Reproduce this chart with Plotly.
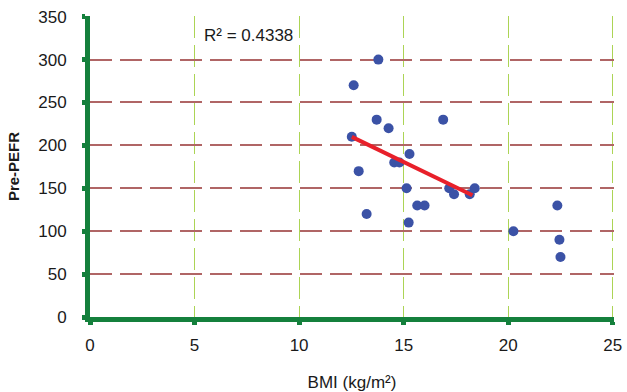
import plotly.graph_objects as go

bmi = [12.61, 13.79, 13.71, 14.28, 16.89, 12.52, 12.85, 15.28, 14.55, 14.8,
       15.14, 17.18, 17.41, 18.16, 18.4, 13.23, 15.24, 15.65, 16.0, 20.25,
       22.35, 22.45, 22.5]
pefr = [270, 300, 230, 220, 230, 210, 170, 190, 180, 180,
        150, 150, 143, 143, 150, 120, 110, 130, 130, 100,
        130, 90, 70]

trend_x_range = [12.52, 18.29]
trend_slope = -11.8
trend_intercept = 357.7
r2_text = "R² = 0.4338"

x_ticks = [0, 5, 10, 15, 20, 25]
y_ticks = [0, 50, 100, 150, 200, 250, 300, 350]

font_family = "Liberation Sans, Arial, sans-serif"
axis_green = "#14803c"

fig = go.Figure()
fig.add_trace(go.Scatter(
    x=bmi, y=pefr, mode="markers",
    marker=dict(color="#3b52a6", size=10, line=dict(width=0)),
    showlegend=False, cliponaxis=False))
fig.add_trace(go.Scatter(
    x=trend_x_range,
    y=[trend_slope * v + trend_intercept for v in trend_x_range],
    mode="lines", line=dict(color="#e8202a", width=4),
    showlegend=False))

fig.add_annotation(x=0.213, y=0.934, xref="paper", yref="paper",
                   text=r2_text, showarrow=False, xanchor="left", yanchor="middle",
                   font=dict(family=font_family, size=17, color="#1a1a1a"))

fig.update_layout(
    width=627, height=392,
    margin=dict(l=90, r=13, t=16, b=75),
    paper_bgcolor="white", plot_bgcolor="white",
    font=dict(family=font_family, size=17, color="#1a1a1a"),
)
fig.update_xaxes(
    range=[0, 25.06], tickvals=x_ticks, showline=True, linecolor=axis_green,
    linewidth=5, ticks="outside", ticklen=3, tickwidth=5, tickcolor=axis_green,
    showgrid=True, gridcolor="#acd455", gridwidth=1.3, griddash="22px,7px",
    zeroline=False, ticklabelstandoff=6, automargin=False,
    tickfont=dict(size=17),
    title=dict(text="BMI (kg/m²)", font=dict(family=font_family, size=17), standoff=24),
)
fig.update_yaxes(
    range=[0, 350.8], tickvals=y_ticks, showline=True, linecolor=axis_green,
    linewidth=5, ticks="outside", ticklen=3, tickwidth=5, tickcolor=axis_green,
    showgrid=True, gridcolor="#b06565", gridwidth=1.5, griddash="22px,8px",
    zeroline=False, ticklabelstandoff=12, automargin=False,
    tickfont=dict(size=17),
    title=dict(text="<b>Pre-PEFR</b>", font=dict(family=font_family, size=15), standoff=16),
)

fig.write_html("out.html", config={"displayModeBar": False},
               post_script="document.body.style.margin='0';document.body.style.overflow='hidden';")
